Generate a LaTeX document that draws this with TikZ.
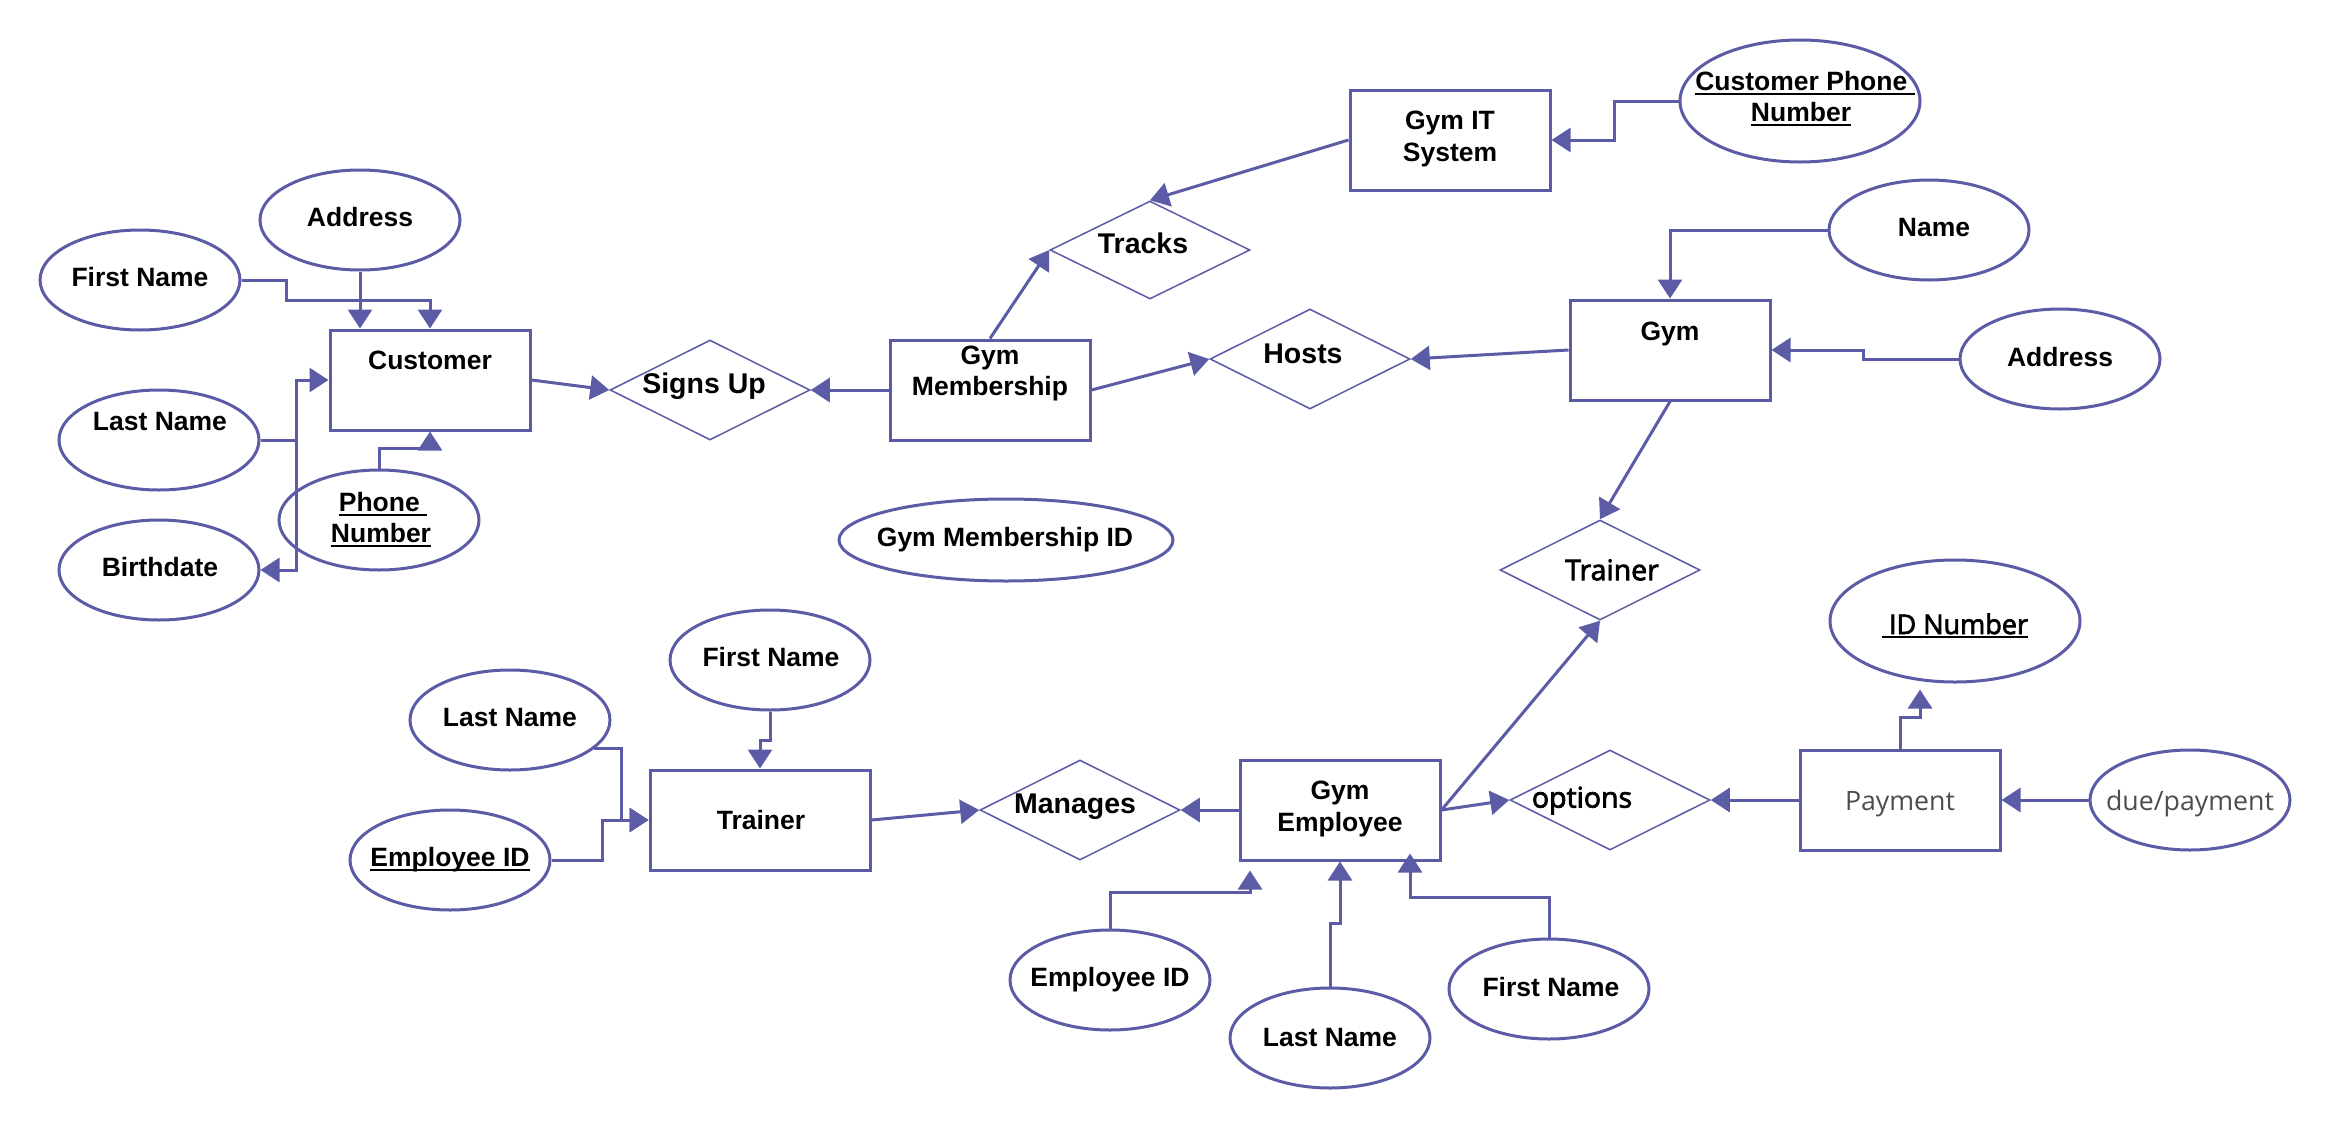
\documentclass[tikz,border=0pt]{standalone}
\usepackage{fontspec}
\setmainfont{Liberation Sans}
\newfontfamily\opensans{Open Sans}
\newfontfamily\opensansmed{Open Sans}[FakeBold=2.6]
\usetikzlibrary{shapes.geometric,arrows.meta,calc}
\definecolor{erline}{RGB}{91,91,166}
\definecolor{softgray}{RGB}{77,77,77}
% underline drawn as a rule just below the baseline
\newcommand\ulbox[1]{\setbox0\hbox{#1}\rlap{\rule[-4pt]{\wd0}{2pt}}\box0}

\begin{document}
\begin{tikzpicture}[x=1pt,y=-1pt,
  entity/.style={draw=erline, line width=3pt, rectangle, minimum width=200pt, minimum height=100pt, inner sep=0pt},
  attr/.style={draw=erline, line width=3pt, ellipse, minimum width=200pt, minimum height=100pt, inner sep=0pt},
  rel/.style={draw=erline, line width=1.5pt, diamond, aspect=2, minimum width=200pt, minimum height=100pt, inner sep=0pt},
  conn/.style={draw=erline, line width=3pt, -{Triangle[length=19pt,width=24pt]}},
  connboth/.style={draw=erline, line width=3pt, {Triangle[length=19pt,width=24pt]}-{Triangle[length=19pt,width=24pt]}},
  plain/.style={draw=erline, line width=3pt},
  lbl/.style={anchor=base, inner sep=0pt, font=\fontsize{26.5pt}{30pt}\selectfont\bfseries},
  rlbl/.style={anchor=base, inner sep=0pt, font=\fontsize{28.5pt}{32pt}\selectfont\bfseries},
  olbl/.style={anchor=base, inner sep=0pt, font=\fontsize{28.5pt}{32pt}\selectfont\opensansmed},
  ilbl/.style={anchor=base, inner sep=0pt, font=\fontsize{27pt}{31pt}\selectfont\opensansmed},
  plbl/.style={anchor=base, inner sep=0pt, text=softgray, font=\fontsize{26.7pt}{31pt}\selectfont\opensans}
]
\useasboundingbox[fill=white] (0,0) rectangle (2330,1130);

% entities
\node[entity] (cust) at (430,380) {};
\node[entity] (gm) at (990,390) {};
\node[entity] (git) at (1450,140) {};
\node[entity] (gym) at (1670,350) {};
\node[entity, minimum width=220pt] (trn) at (760,820) {};
\node[entity] (ge) at (1340,810) {};
\node[entity] (pay) at (1900,800) {};

% relationships
\node[rel] (su) at (710,390) {};
\node[rel, minimum height=98pt] (trk) at (1150,250) {};
\node[rel] (ho) at (1310,359) {};
\node[rel] (trd) at (1600,570) {};
\node[rel] (man) at (1080,810) {};
\node[rel] (opt) at (1610,800) {};

% attributes
\node[attr] (addrc) at (360,220) {};
\node[attr] (fnc) at (140,280) {};
\node[attr] (lnc) at (159,440) {};
\node[attr] (bd) at (159,570) {};
\node[attr] (ph) at (379,520) {};
\node[attr, minimum width=240pt, minimum height=122pt] (cpn) at (1800,101) {};
\node[attr] (nm) at (1929,230) {};
\node[attr] (addrg) at (2060,359) {};
\node[attr, minimum width=250pt, minimum height=122pt] (idn) at (1955,621) {};
\node[attr] (due) at (2190,800) {};
\node[attr, minimum width=334pt, minimum height=82pt] (gmid) at (1006,540) {};
\node[attr] (fnt) at (770,660) {};
\node[attr] (lnt) at (510,720) {};
\node[attr] (eidt) at (450,860) {};
\node[attr] (eidg) at (1110,980) {};
\node[attr] (lng) at (1330,1038) {};
\node[attr] (fng) at (1549,989) {};

% labels
\node[lbl] (cust-t) at (430,369.5) {Customer};
\node[lbl] (gm-t1) at (990,364.5) {Gym};
\node[lbl] (gm-t2) at (990,395.5) {Membership};
\node[lbl] (git-t1) at (1450,129.5) {Gym IT};
\node[lbl] (git-t2) at (1450,161.5) {System};
\node[lbl] (gym-t) at (1670,340.5) {Gym};
\node[lbl] (trn-t) at (761,829.5) {Trainer};
\node[lbl] (ge-t1) at (1340,799.5) {Gym};
\node[lbl] (ge-t2) at (1340,831.5) {Employee};
\node[plbl] (pay-t) at (1900,810) {Payment};

\node[rlbl] (su-t) at (704,393.2) {Signs Up};
\node[rlbl] (trk-t) at (1143,253.2) {Tracks};
\node[rlbl] (ho-t) at (1303,363.2) {Hosts};
\node[olbl] (trd-t) at (1612,580.2) {Trainer};
\node[rlbl] (man-t) at (1075,813.2) {Manages};
\node[olbl] (opt-t) at (1582,807.6) {options};

\node[lbl] (addrc-t) at (360,226.5) {Address};
\node[lbl] (fnc-t) at (140,286.5) {First Name};
\node[lbl] (lnc-t) at (160,430.5) {Last Name};
\node[lbl] (bd-t) at (160,576.5) {Birthdate};
\node[lbl] (ph-t1) at (383,511.5) {\ulbox{Phone\ }};
\node[lbl] (ph-t2) at (381,542.5) {\ulbox{Number}};
\node[lbl] (cpn-t1) at (1805,90.5) {\ulbox{Customer Phone\ }};
\node[lbl] (cpn-t2) at (1801,121.5) {\ulbox{Number}};
\node[lbl] (nm-t) at (1934,236.5) {Name};
\node[lbl] (addrg-t) at (2060,366.5) {Address};
\node[ilbl] (idn-t) at (1955,634) {\ulbox{\ ID Number}};
\node[plbl] (due-t) at (2190,810) {due/payment};
\node[lbl] (gmid-t) at (1005,546.5) {Gym Membership ID};
\node[lbl] (fnt-t) at (771,666.5) {First Name};
\node[lbl] (lnt-t) at (510,726.5) {Last Name};
\node[lbl] (eidt-t) at (450,866.5) {\ulbox{Employee ID}};
\node[lbl] (eidg-t) at (1110,986.5) {Employee ID};
\node[lbl] (lng-t) at (1330,1046.5) {Last Name};
\node[lbl] (fng-t) at (1551,996.5) {First Name};

% customer attributes
\draw[conn] (addrc.south) -- (cust.north -| addrc.south);
\draw[conn] (fnc.east) -- ++(45,0) -- ++(0,20) -| (cust.north);
\draw[plain] (lnc.east) -- ++(36,0);
\draw[connboth] (bd.east) -- ++(36,0) |- (cust.west);
\draw[conn] (ph.north) -- ++(0,-20) -| (cust.south);

% membership side
\draw[conn] (cust.east) -- (su.west);
\draw[conn] (gm.west) -- (su.east);
\draw[conn] (gm.north) -- (trk.west);
\draw[conn] (git.west) -- (trk.north);
\draw[conn] (cpn.west) -- ++(-64,0) |- (git.east);
\draw[conn] (gm.east) -- (ho.west);

% gym
\draw[conn] (gym.west) -- (ho.east);
\draw[conn] (nm.west) -| (gym.north);
\draw[conn] (addrg.west) -- ++(-95,0) |- (gym.east);
\draw[conn] (gym.south) -- (trd.north);

% employee, options and payment
\draw[conn] (ge.east) -- (trd.south);
\draw[conn] (ge.east) -- (opt.west);
\draw[conn] (pay.west) -- (opt.east);
\draw[conn] (due.west) -- (pay.east);
\draw[conn] (pay.north) -- ++(0,-31) -- ++(20,0) -- ($(idn.south)+(-35,6)$);

% trainer
\draw[conn] (fnt.south) -- ++(0,29) -| (trn.north);
\draw[conn] (lnt.-19) -- ++(28,0) |- (trn.west);
\draw[conn] (eidt.east) -- ++(51,0) |- (trn.west);
\draw[conn] (trn.east) -- (man.west);
\draw[conn] (ge.west) -- (man.east);

% employee attributes
\draw[conn] (eidg.north) -- ++(0,-36) -| ($(ge.south)+(-90,9)$);
\draw[conn] (lng.north) -- ++(0,-63) -| (ge.south);
\draw[conn] (fng.north) -- ++(0,-40) -| ($(ge.south)+(70,-8)$);
\end{tikzpicture}
\end{document}
